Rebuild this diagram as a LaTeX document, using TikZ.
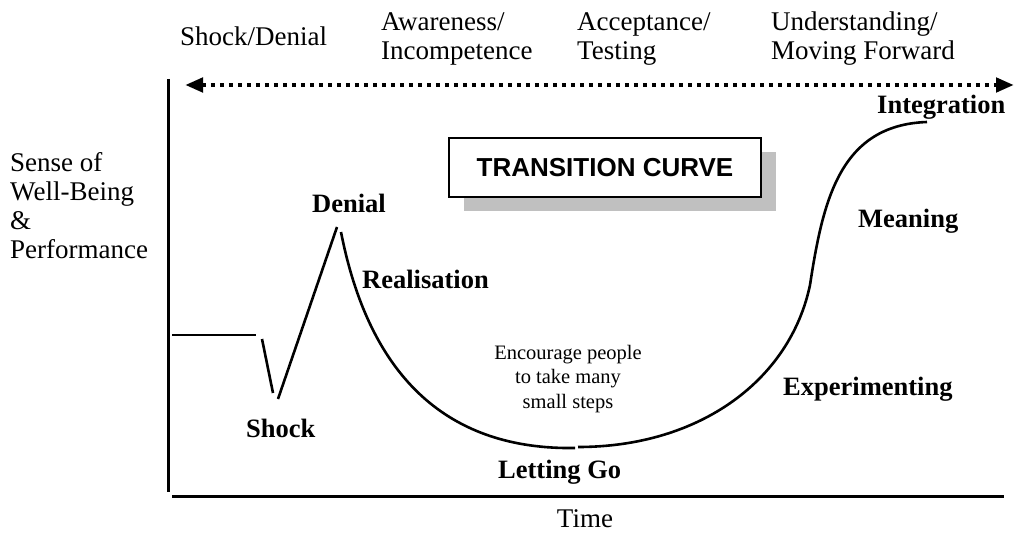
\documentclass[tikz,border=0pt]{standalone}
\usepackage{fontspec}
\setmainfont{Liberation Serif}
\newfontfamily\arialfont{Liberation Sans}
\usetikzlibrary{arrows.meta}
\definecolor{shadowgray}{HTML}{C0C0C0}
\begin{document}
\begin{tikzpicture}[x=1pt,y=-1pt,
  lbl/.style={inner sep=0pt, anchor=base west, font=\fontsize{27}{30}\selectfont},
  blbl/.style={inner sep=0pt, anchor=base west, font=\fontsize{26.5}{30}\selectfont\bfseries},
  smalltxt/.style={inner sep=0pt, anchor=base, font=\fontsize{20.5}{24.5}\selectfont},
  axisline/.style={line width=3pt},
  curveline/.style={line width=2.6pt},
  dotline/.style={line width=4.5pt, dash pattern=on 4.5pt off 4.5pt,
    {Triangle[length=18pt,width=14pt]}-{Triangle[length=18pt,width=14pt]}},
  titlebox/.style={draw, line width=2pt, fill=white, minimum width=312pt, minimum height=59pt,
    inner sep=0pt, font=\arialfont\bfseries\fontsize{26}{30}\selectfont},
  shadowbox/.style={fill=shadowgray, draw=none, minimum width=312pt, minimum height=59pt, inner sep=0pt}
]
\useasboundingbox (0,0) rectangle (1016,534);

% top phase labels
\node[lbl] (p1) at (180,46) {Shock/Denial};
\node[lbl] (p2a) at (381,31) {Awareness/};
\node[lbl] (p2b) at (381,60) {Incompetence};
\node[lbl] (p3a) at (577,31) {Acceptance/};
\node[lbl] (p3b) at (577,60) {Testing};
\node[lbl] (p4a) at (771,31) {Understanding/};
\node[lbl] (p4b) at (771,60) {Moving Forward};

% dotted double arrow
\coordinate (la) at (185,85);
\coordinate (ra) at (1014,85);
\draw[dotline] (la) -- (ra);

% axes
\coordinate (vtop) at (168,79);
\coordinate (vbot) at (168,492);
\coordinate (hl) at (172,496);
\coordinate (hr) at (1004,496);
\draw[axisline] (vtop) -- (vbot);
\draw[axisline] (hl) -- (hr);

% axis labels
\node[lbl] (y1) at (10,172) {Sense of};
\node[lbl] (y2) at (10,201) {Well-Being};
\node[lbl] (y3) at (10,230) {\&};
\node[lbl] (y4) at (10,259) {Performance};
\node[lbl, anchor=base] (time) at (585,527) {Time};

% title box with shadow
\node[shadowbox] (shadow) at (620,181.5) {};
\node[titlebox] (title) at (605,167.5) {TRANSITION CURVE};

% curve
\coordinate (h0) at (172,335);
\coordinate (h1) at (256,335);
\coordinate (s0) at (262,339);
\coordinate (s1) at (273,393);
\coordinate (d0) at (278,399);
\coordinate (d1) at (337,227);
\coordinate (r0) at (341,232);
\coordinate (g0) at (575,448);
\coordinate (g1) at (578,447);
\coordinate (m0) at (810,285);
\coordinate (i0) at (927,122);
\draw[curveline] (h0) -- (h1);
\draw[curveline] (s0) -- (s1);
\draw[curveline] (d0) -- (d1);
\draw[curveline] (r0) .. controls (370,380) and (450,450) .. (g0);
\draw[curveline] (g1) .. controls (700,447) and (790,380) .. (m0)
                      .. controls (823,200) and (840,125) .. (i0);

% stage labels
\node[blbl] (denial) at (312,213) {Denial};
\node[blbl] (realisation) at (362,288) {Realisation};
\node[blbl] (shock) at (246,437) {Shock};
\node[blbl] (letgo) at (498,478) {Letting Go};
\node[blbl] (exper) at (783,395) {Experimenting};
\node[blbl] (meaning) at (858,228) {Meaning};
\node[blbl] (integ) at (877,114) {Integration};

% note
\node[smalltxt] (n1) at (568,359) {Encourage people};
\node[smalltxt] (n2) at (568,383) {to take many};
\node[smalltxt] (n3) at (568,408) {small steps};
\end{tikzpicture}
\end{document}
